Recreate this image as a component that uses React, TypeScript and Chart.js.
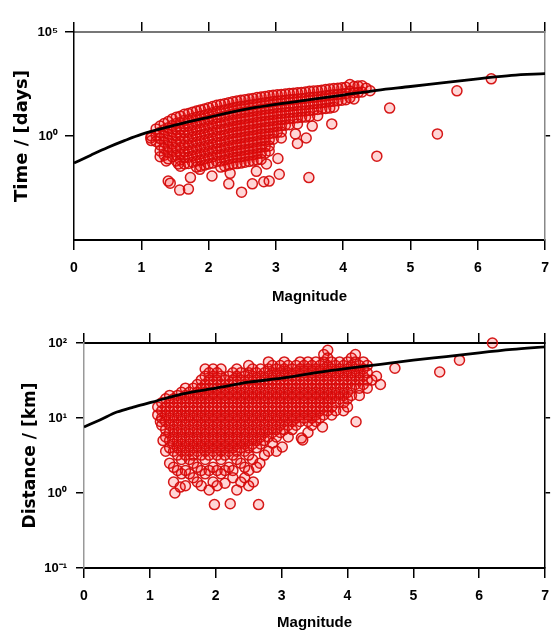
import React, { useEffect, useRef } from 'react';
import { Chart, registerables } from 'chart.js';

Chart.register(...registerables);

// ---------- axis ticks ----------
const magnitudeTicks = [0, 1, 2, 3, 4, 5, 6, 7];
const timeTickValues = [1, 100000];
const timeTickLabels = ['10⁰', '10⁵'];
const timeRightTicks = [1];
const distanceTickValues = [0.1, 1, 10, 100];
const distanceTickLabels = ['10⁻¹', '10⁰', '10¹', '10²'];
const distanceRightTicks = [1, 10];

// ---------- fitted curves ----------
const fitMagnitudes = [0, 0.25, 0.5, 0.75, 1, 1.5, 2, 2.5, 3, 3.5, 4, 4.5, 5, 5.5, 6, 6.5, 7];
const fitTimeDays = [0.05, 0.12, 0.28, 0.6, 1.2, 3.3, 7.9, 18, 33, 56, 93, 158, 240, 370, 560, 830, 1000];
const fitDistanceKm = [7.6, 9.5, 12, 14, 16, 21, 25, 30, 34, 40, 46, 52, 59, 66, 74, 82, 89];

// ---------- observed events: [magnitude, time in days] ----------
const timePoints: [number, number][] = [
  [1.14, 0.8], [1.15, 1.0], [1.15, 0.6],
  [1.22, 2.2], [1.22, 1.1], [1.22, 0.55],
  [1.28, 3], [1.28, 1.5], [1.28, 0.75], [1.28, 0.37], [1.28, 0.19], [1.28, 0.1],
  [1.34, 4], [1.34, 2], [1.34, 1], [1.34, 0.5], [1.34, 0.25], [1.34, 0.12],
  [1.40, 5], [1.40, 2.5], [1.40, 1.25], [1.40, 0.62], [1.40, 0.31], [1.40, 0.16], [1.40, 0.08],
  [1.46, 6.5], [1.46, 3.2], [1.46, 1.6], [1.46, 0.8], [1.46, 0.4], [1.46, 0.2], [1.46, 0.1],
  [1.52, 8], [1.52, 4], [1.52, 2], [1.52, 1], [1.52, 0.5], [1.52, 0.25], [1.52, 0.12], [1.52, 0.063],
  [1.58, 9], [1.58, 4.5], [1.58, 2.2], [1.58, 1.1], [1.58, 0.56], [1.58, 0.28], [1.58, 0.14], [1.58, 0.07], [1.58, 0.035],
  [1.64, 11], [1.64, 5.5], [1.64, 2.8], [1.64, 1.4], [1.64, 0.7], [1.64, 0.35], [1.64, 0.17], [1.64, 0.09], [1.64, 0.045],
  [1.70, 12], [1.70, 6], [1.70, 3], [1.70, 1.5], [1.70, 0.75], [1.70, 0.38], [1.70, 0.19], [1.70, 0.095], [1.70, 0.048],
  [1.76, 14], [1.76, 7], [1.76, 3.5], [1.76, 1.8], [1.76, 0.9], [1.76, 0.45], [1.76, 0.22], [1.76, 0.11], [1.76, 0.055],
  [1.82, 16], [1.82, 8], [1.82, 4], [1.82, 2], [1.82, 1], [1.82, 0.5], [1.82, 0.25], [1.82, 0.125], [1.82, 0.063], [1.82, 0.032],
  [1.88, 18], [1.88, 9], [1.88, 4.5], [1.88, 2.2], [1.88, 1.1], [1.88, 0.56], [1.88, 0.28], [1.88, 0.14], [1.88, 0.07], [1.88, 0.035],
  [1.94, 20], [1.94, 10], [1.94, 5], [1.94, 2.5], [1.94, 1.25], [1.94, 0.62], [1.94, 0.31], [1.94, 0.16], [1.94, 0.08], [1.94, 0.04],
  [2.00, 23], [2.00, 11.5], [2.00, 5.7], [2.00, 2.9], [2.00, 1.45], [2.00, 0.72], [2.00, 0.36], [2.00, 0.18], [2.00, 0.09], [2.00, 0.045],
  [2.06, 26], [2.06, 13], [2.06, 6.5], [2.06, 3.2], [2.06, 1.6], [2.06, 0.8], [2.06, 0.4], [2.06, 0.2], [2.06, 0.1], [2.06, 0.05],
  [2.12, 30], [2.12, 15], [2.12, 7.5], [2.12, 3.8], [2.12, 1.9], [2.12, 0.95], [2.12, 0.47], [2.12, 0.24], [2.12, 0.12], [2.12, 0.06],
  [2.18, 33], [2.18, 16], [2.18, 8], [2.18, 4], [2.18, 2], [2.18, 1], [2.18, 0.5], [2.18, 0.25], [2.18, 0.125], [2.18, 0.063], [2.18, 0.032],
  [2.24, 36], [2.24, 18], [2.24, 9], [2.24, 4.5], [2.24, 2.2], [2.24, 1.1], [2.24, 0.56], [2.24, 0.28], [2.24, 0.14], [2.24, 0.07], [2.24, 0.035],
  [2.30, 40], [2.30, 20], [2.30, 10], [2.30, 5], [2.30, 2.5], [2.30, 1.25], [2.30, 0.62], [2.30, 0.31], [2.30, 0.16], [2.30, 0.08], [2.30, 0.04],
  [2.36, 44], [2.36, 22], [2.36, 11], [2.36, 5.5], [2.36, 2.8], [2.36, 1.4], [2.36, 0.7], [2.36, 0.35], [2.36, 0.17], [2.36, 0.09], [2.36, 0.045],
  [2.42, 48], [2.42, 24], [2.42, 12], [2.42, 6], [2.42, 3], [2.42, 1.5], [2.42, 0.75], [2.42, 0.37], [2.42, 0.19], [2.42, 0.095], [2.42, 0.047],
  [2.48, 52], [2.48, 26], [2.48, 13], [2.48, 6.5], [2.48, 3.2], [2.48, 1.6], [2.48, 0.8], [2.48, 0.4], [2.48, 0.2], [2.48, 0.1], [2.48, 0.05],
  [2.54, 56], [2.54, 28], [2.54, 14], [2.54, 7], [2.54, 3.5], [2.54, 1.75], [2.54, 0.87], [2.54, 0.44], [2.54, 0.22], [2.54, 0.11], [2.54, 0.055],
  [2.60, 60], [2.60, 30], [2.60, 15], [2.60, 7.5], [2.60, 3.7], [2.60, 1.9], [2.60, 0.94], [2.60, 0.47], [2.60, 0.23], [2.60, 0.12], [2.60, 0.06],
  [2.66, 64], [2.66, 32], [2.66, 16], [2.66, 8], [2.66, 4], [2.66, 2], [2.66, 1], [2.66, 0.5], [2.66, 0.25], [2.66, 0.125], [2.66, 0.063],
  [2.72, 70], [2.72, 35], [2.72, 17], [2.72, 8.7], [2.72, 4.4], [2.72, 2.2], [2.72, 1.1], [2.72, 0.55], [2.72, 0.27], [2.72, 0.14], [2.72, 0.07],
  [2.78, 75], [2.78, 37], [2.78, 19], [2.78, 9.4], [2.78, 4.7], [2.78, 2.3], [2.78, 1.2], [2.78, 0.6], [2.78, 0.3], [2.78, 0.15], [2.78, 0.075],
  [2.84, 80], [2.84, 40], [2.84, 20], [2.84, 10], [2.84, 5], [2.84, 2.5], [2.84, 1.25], [2.84, 0.62], [2.84, 0.31], [2.84, 0.15],
  [2.90, 85], [2.90, 42], [2.90, 21], [2.90, 10.5], [2.90, 5.3], [2.90, 2.6], [2.90, 1.3], [2.90, 0.66], [2.90, 0.33],
  [2.96, 90], [2.96, 45], [2.96, 22], [2.96, 11], [2.96, 5.6], [2.96, 2.8], [2.96, 1.4], [2.96, 0.7],
  [3.02, 95], [3.02, 48], [3.02, 24], [3.02, 12], [3.02, 6], [3.02, 3], [3.02, 1.5],
  [3.08, 100], [3.08, 50], [3.08, 25], [3.08, 12.5], [3.08, 6.2], [3.08, 3.1], [3.08, 1.55],
  [3.14, 105], [3.14, 52], [3.14, 26], [3.14, 13], [3.14, 6.5], [3.14, 3.3],
  [3.20, 110], [3.20, 55], [3.20, 27], [3.20, 14], [3.20, 7], [3.20, 3.5],
  [3.26, 115], [3.26, 57], [3.26, 29], [3.26, 14], [3.26, 7.2],
  [3.32, 120], [3.32, 60], [3.32, 30], [3.32, 15], [3.32, 7.5], [3.32, 3.8],
  [3.38, 125], [3.38, 62], [3.38, 31], [3.38, 16], [3.38, 8],
  [3.44, 130], [3.44, 65], [3.44, 32], [3.44, 16], [3.44, 8.1],
  [3.50, 140], [3.50, 70], [3.50, 35], [3.50, 17], [3.50, 8.7],
  [3.56, 145], [3.56, 72], [3.56, 36], [3.56, 18],
  [3.62, 150], [3.62, 75], [3.62, 38], [3.62, 19], [3.62, 9.5],
  [3.68, 160], [3.68, 80], [3.68, 40], [3.68, 20],
  [3.74, 170], [3.74, 85], [3.74, 42], [3.74, 21],
  [3.80, 180], [3.80, 90], [3.80, 45], [3.80, 22],
  [3.86, 190], [3.86, 95], [3.86, 47], [3.86, 24],
  [3.92, 200], [3.92, 100], [3.92, 50],
  [3.98, 210], [3.98, 105], [3.98, 52],
  [4.04, 220], [4.04, 110], [4.04, 55],
  [4.10, 300], [4.10, 140], [4.10, 70],
  [4.16, 240], [4.16, 120], [4.16, 60],
  [4.22, 250], [4.22, 125],
  [4.28, 260], [4.28, 130],
  [4.34, 200], [4.40, 150],
  // isolated events
  [1.37, 0.063], [1.40, 0.0068], [1.43, 0.0054], [1.55, 0.045], [1.57, 0.0025], [1.70, 0.0028],
  [1.73, 0.01], [1.87, 0.025], [2.05, 0.012], [2.30, 0.005], [2.32, 0.016], [2.49, 0.002],
  [2.65, 0.005], [2.71, 0.02], [2.82, 0.0063], [2.86, 0.045], [2.90, 0.0068], [2.90, 0.19],
  [3.03, 0.083], [3.05, 0.0145], [3.08, 0.8], [3.29, 1.26], [3.32, 0.44], [3.45, 0.8],
  [3.49, 0.01], [3.54, 3], [3.83, 3.8], [4.50, 0.107], [4.69, 22], [5.40, 1.26],
  [5.69, 148], [6.20, 560],
];

// ---------- observed events: [magnitude, distance in km] ----------
const distancePoints: [number, number][] = [
  [1.12, 14], [1.12, 11], [1.16, 9],
  [1.18, 16], [1.18, 12.5], [1.18, 10], [1.18, 8], [1.20, 5],
  [1.24, 18], [1.24, 14], [1.24, 11], [1.24, 9], [1.24, 7], [1.24, 5.6], [1.24, 3.6],
  [1.30, 20], [1.30, 16], [1.30, 12.5], [1.30, 10], [1.30, 8], [1.30, 6.4], [1.30, 5], [1.30, 4], [1.30, 2.5],
  [1.36, 18], [1.36, 14], [1.36, 11], [1.36, 9], [1.36, 7], [1.36, 5.6], [1.36, 4.5], [1.36, 3.6], [1.36, 2.2], [1.36, 1.4],
  [1.42, 20], [1.42, 16], [1.42, 12.5], [1.42, 10], [1.42, 8], [1.42, 6.4], [1.42, 5], [1.42, 4], [1.42, 3.2], [1.42, 2], [1.38, 1.0],
  [1.48, 22], [1.48, 18], [1.48, 14], [1.48, 11], [1.48, 9], [1.48, 7], [1.48, 5.6], [1.48, 4.5], [1.48, 3.6], [1.48, 2.8], [1.48, 1.8], [1.46, 1.2],
  [1.54, 25], [1.54, 20], [1.54, 16], [1.54, 12.5], [1.54, 10], [1.54, 8], [1.54, 6.4], [1.54, 5], [1.54, 4], [1.54, 3.2], [1.54, 2], [1.54, 1.25],
  [1.60, 22], [1.60, 18], [1.60, 14], [1.60, 11], [1.60, 9], [1.60, 7], [1.60, 5.6], [1.60, 4.5], [1.60, 3.6], [1.60, 2.8], [1.60, 1.8],
  [1.66, 25], [1.66, 20], [1.66, 16], [1.66, 12.5], [1.66, 10], [1.66, 8], [1.66, 6.4], [1.66, 5], [1.66, 4], [1.66, 3.2], [1.66, 2.5], [1.66, 1.6],
  [1.72, 28], [1.72, 22], [1.72, 18], [1.72, 14], [1.72, 11], [1.72, 9], [1.72, 7], [1.72, 5.6], [1.72, 4.5], [1.72, 3.6], [1.72, 2.2], [1.72, 1.4],
  [1.78, 32], [1.78, 25], [1.78, 20], [1.78, 16], [1.78, 12.5], [1.78, 10], [1.78, 8], [1.78, 6.4], [1.78, 5], [1.78, 4], [1.78, 3.2], [1.78, 2], [1.78, 1.25],
  [1.84, 45], [1.84, 36], [1.84, 28], [1.84, 22], [1.84, 18], [1.84, 14], [1.84, 11], [1.84, 9], [1.84, 7], [1.84, 5.6], [1.84, 4.5], [1.84, 3.6], [1.84, 2.8], [1.84, 1.8],
  [1.90, 40], [1.90, 32], [1.90, 25], [1.90, 20], [1.90, 16], [1.90, 12.5], [1.90, 10], [1.90, 8], [1.90, 6.4], [1.90, 5], [1.90, 4], [1.90, 3.2], [1.90, 2], [1.90, 1.1],
  [1.96, 45], [1.96, 36], [1.96, 28], [1.96, 22], [1.96, 18], [1.96, 14], [1.96, 11], [1.96, 9], [1.96, 7], [1.96, 5.6], [1.96, 4.5], [1.96, 3.6], [1.96, 2.2], [1.96, 1.4], [1.98, 0.7],
  [2.02, 40], [2.02, 32], [2.02, 25], [2.02, 20], [2.02, 16], [2.02, 12.5], [2.02, 10], [2.02, 8], [2.02, 6.4], [2.02, 5], [2.02, 4], [2.02, 3.2], [2.02, 2], [2.02, 1.25],
  [2.08, 45], [2.08, 36], [2.08, 28], [2.08, 22], [2.08, 18], [2.08, 14], [2.08, 11], [2.08, 9], [2.08, 7], [2.08, 5.6], [2.08, 4.5], [2.08, 3.6], [2.08, 2.8], [2.08, 1.8],
  [2.14, 32], [2.14, 25], [2.14, 20], [2.14, 16], [2.14, 12.5], [2.14, 10], [2.14, 8], [2.14, 6.4], [2.14, 5], [2.14, 4], [2.14, 3.2], [2.14, 2], [2.14, 1.35],
  [2.20, 36], [2.20, 28], [2.20, 22], [2.20, 18], [2.20, 14], [2.20, 11], [2.20, 9], [2.20, 7], [2.20, 5.6], [2.20, 4.5], [2.20, 3.6], [2.20, 2.2], [2.22, 0.72],
  [2.26, 40], [2.26, 32], [2.26, 25], [2.26, 20], [2.26, 16], [2.26, 12.5], [2.26, 10], [2.26, 8], [2.26, 6.4], [2.26, 5], [2.26, 4], [2.26, 3.2], [2.26, 2], [2.26, 1.6],
  [2.32, 45], [2.32, 36], [2.32, 28], [2.32, 22], [2.32, 18], [2.32, 14], [2.32, 11], [2.32, 9], [2.32, 7], [2.32, 5.6], [2.32, 4.5], [2.32, 3.6], [2.32, 2.8], [2.32, 1.1],
  [2.38, 40], [2.38, 32], [2.38, 25], [2.38, 20], [2.38, 16], [2.38, 12.5], [2.38, 10], [2.38, 8], [2.38, 6.4], [2.38, 5], [2.38, 4], [2.38, 2.5], [2.38, 1.4],
  [2.44, 36], [2.44, 28], [2.44, 22], [2.44, 18], [2.44, 14], [2.44, 11], [2.44, 9], [2.44, 7], [2.44, 5.6], [2.44, 4.5], [2.44, 3.6], [2.44, 2.2], [2.44, 1.6],
  [2.50, 50], [2.50, 40], [2.50, 32], [2.50, 25], [2.50, 20], [2.50, 16], [2.50, 12.5], [2.50, 10], [2.50, 8], [2.50, 6.4], [2.50, 5], [2.50, 4], [2.50, 3.2], [2.50, 2], [2.50, 1.25],
  [2.56, 45], [2.56, 36], [2.56, 28], [2.56, 22], [2.56, 18], [2.56, 14], [2.56, 11], [2.56, 9], [2.56, 7], [2.56, 5.6], [2.56, 4.5], [2.56, 2.8], [2.57, 1.4],
  [2.62, 40], [2.62, 32], [2.62, 25], [2.62, 20], [2.62, 16], [2.62, 12.5], [2.62, 10], [2.62, 8], [2.62, 6.4], [2.62, 5], [2.62, 4], [2.62, 2.2], [2.65, 0.7],
  [2.68, 45], [2.68, 36], [2.68, 28], [2.68, 22], [2.68, 18], [2.68, 14], [2.68, 11], [2.68, 9], [2.68, 7], [2.68, 5.6], [2.68, 4.5], [2.67, 2.5],
  [2.74, 40], [2.74, 32], [2.74, 25], [2.74, 20], [2.74, 16], [2.74, 12.5], [2.74, 10], [2.74, 8], [2.74, 6.4], [2.74, 5], [2.74, 3.2],
  [2.80, 56], [2.80, 45], [2.80, 36], [2.80, 28], [2.80, 22], [2.80, 18], [2.80, 14], [2.80, 11], [2.80, 9], [2.80, 7], [2.80, 5.6], [2.80, 3.6],
  [2.86, 50], [2.86, 40], [2.86, 32], [2.86, 25], [2.86, 20], [2.86, 16], [2.86, 12.5], [2.86, 10], [2.86, 8], [2.86, 6.4], [2.86, 4.6],
  [2.92, 45], [2.92, 36], [2.92, 28], [2.92, 22], [2.92, 18], [2.92, 14], [2.92, 11], [2.92, 9], [2.92, 7], [2.92, 5.6], [2.92, 3.6],
  [2.98, 50], [2.98, 40], [2.98, 32], [2.98, 25], [2.98, 20], [2.98, 16], [2.98, 12.5], [2.98, 10], [2.98, 8], [2.98, 6.4], [3.01, 4.1],
  [3.04, 56], [3.04, 45], [3.04, 36], [3.04, 28], [3.04, 22], [3.04, 18], [3.04, 14], [3.04, 11], [3.04, 9], [3.04, 7],
  [3.10, 50], [3.10, 40], [3.10, 32], [3.10, 25], [3.10, 20], [3.10, 16], [3.10, 12.5], [3.10, 10], [3.10, 8], [3.10, 5.6],
  [3.16, 45], [3.16, 36], [3.16, 28], [3.16, 22], [3.16, 18], [3.16, 14], [3.16, 11], [3.16, 9], [3.16, 7],
  [3.22, 50], [3.22, 40], [3.22, 32], [3.22, 25], [3.22, 20], [3.22, 16], [3.22, 12.5], [3.22, 10], [3.22, 8],
  [3.28, 56], [3.28, 45], [3.28, 36], [3.28, 28], [3.28, 22], [3.28, 18], [3.28, 14], [3.28, 11], [3.28, 9], [3.30, 5.4],
  [3.34, 50], [3.34, 40], [3.34, 32], [3.34, 25], [3.34, 20], [3.34, 16], [3.34, 12.5], [3.34, 10], [3.32, 5.1],
  [3.40, 56], [3.40, 45], [3.40, 36], [3.40, 28], [3.40, 22], [3.40, 18], [3.40, 14], [3.40, 11], [3.40, 9], [3.40, 6.4],
  [3.46, 50], [3.46, 40], [3.46, 32], [3.46, 25], [3.46, 20], [3.46, 16], [3.46, 12.5], [3.46, 10], [3.46, 8],
  [3.52, 56], [3.52, 45], [3.52, 36], [3.52, 28], [3.52, 22], [3.52, 18], [3.52, 14], [3.52, 11], [3.52, 9],
  [3.58, 50], [3.58, 40], [3.58, 32], [3.58, 25], [3.58, 20], [3.58, 16], [3.58, 12.5], [3.58, 10], [3.62, 7.6],
  [3.64, 70], [3.64, 56], [3.64, 45], [3.64, 36], [3.64, 28], [3.64, 22], [3.64, 18], [3.64, 14], [3.64, 11],
  [3.70, 80], [3.70, 63], [3.70, 50], [3.70, 40], [3.70, 32], [3.70, 25], [3.70, 20], [3.70, 16], [3.70, 12.5],
  [3.76, 56], [3.76, 45], [3.76, 36], [3.76, 28], [3.76, 22], [3.76, 18], [3.76, 14], [3.76, 11],
  [3.82, 50], [3.82, 40], [3.82, 32], [3.82, 25], [3.82, 20], [3.82, 16], [3.82, 12.5],
  [3.88, 56], [3.88, 45], [3.88, 36], [3.88, 28], [3.88, 22], [3.88, 18],
  [3.94, 50], [3.94, 40], [3.94, 32], [3.94, 25], [3.94, 20], [3.94, 16], [3.94, 12.5],
  [4.00, 56], [4.00, 45], [4.00, 36], [4.00, 28], [4.00, 22], [4.00, 18], [4.00, 14],
  [4.06, 63], [4.06, 50], [4.06, 40], [4.06, 32], [4.06, 25], [4.06, 20],
  [4.12, 70], [4.12, 56], [4.12, 45], [4.12, 36], [4.12, 28], [4.13, 8.9],
  [4.18, 50], [4.18, 40], [4.18, 32], [4.18, 25], [4.18, 20],
  [4.24, 56], [4.24, 45], [4.24, 36], [4.24, 28],
  [4.30, 50], [4.30, 40], [4.30, 32], [4.30, 25],
  [4.37, 32], [4.44, 36], [4.50, 28], [4.72, 46], [5.40, 41], [5.70, 59], [6.20, 100],
];

// ---------- layout of the two panels ----------
type PanelSpec = {
  canvasTop: number;
  canvasHeight: number;
  leftW: number;
  rightW: number;
  topH: number;
  bottomH: number;
  yMin: number;
  yMax: number;
  tickValues: number[];
  tickLabels: string[];
  rightTicks: number[];
  yTitle: string;
  yTitleSize: number;
  yTitlePad: number;
  yTickLen: number;
  yTickPad: number;
  xTitlePadBottom: number;
  topBorder: string;
  rightBorder: string;
  leftBorder: string;
  fit: number[];
  points: [number, number][];
};

const topPanel: PanelSpec = {
  canvasTop: 0,
  canvasHeight: 312,
  leftW: 74,
  rightW: 5,
  topH: 32,
  bottomH: 72,
  yMin: 0.00001,
  yMax: 100000,
  tickValues: timeTickValues,
  tickLabels: timeTickLabels,
  rightTicks: timeRightTicks,
  yTitle: 'Time / [days]',
  yTitleSize: 18,
  yTitlePad: 12,
  yTickLen: 9,
  yTickPad: 7,
  xTitlePadBottom: 6,
  topBorder: '#777777',
  rightBorder: '#888888',
  leftBorder: '#000000',
  fit: fitTimeDays,
  points: timePoints,
};

const bottomPanel: PanelSpec = {
  canvasTop: 300,
  canvasHeight: 337,
  leftW: 84,
  rightW: 5,
  topH: 43,
  bottomH: 69,
  yMin: 0.1,
  yMax: 100,
  tickValues: distanceTickValues,
  tickLabels: distanceTickLabels,
  rightTicks: distanceRightTicks,
  yTitle: 'Distance / [km]',
  yTitleSize: 17,
  yTitlePad: 20,
  yTickLen: 8,
  yTickPad: 9,
  xTitlePadBottom: 5,
  topBorder: '#000000',
  rightBorder: '#000000',
  leftBorder: '#999999',
  fit: fitDistanceKm,
  points: distancePoints,
};

const SANS = '"Liberation Sans", Arial, Helvetica, sans-serif';
const boldFont = (size: number, family: string = SANS) => ({ family, size, weight: 'bold' as const });

function buildConfig(p: PanelSpec): any {
  const magTicks = (s: any) => {
    s.ticks = magnitudeTicks.map((v) => ({ value: v }));
  };
  return {
    type: 'scatter',
    data: {
      datasets: [
        {
          type: 'line',
          data: fitMagnitudes.map((m, i) => ({ x: m, y: p.fit[i] })),
          borderColor: '#000000',
          borderWidth: 2.8,
          pointRadius: 0,
          cubicInterpolationMode: 'monotone',
          fill: false,
        },
        {
          type: 'scatter',
          data: p.points.map(([m, v]) => ({ x: m, y: v })),
          pointStyle: 'circle',
          pointRadius: 5,
          borderWidth: 1.5,
          borderColor: 'rgba(212, 12, 12, 0.95)',
          backgroundColor: 'rgba(255, 0, 0, 0.16)',
          clip: false,
        },
      ],
    },
    options: {
      responsive: false,
      animation: false,
      events: [],
      layout: { padding: 0 },
      plugins: { legend: { display: false }, tooltip: { enabled: false } },
      scales: {
        x: {
          type: 'linear',
          position: 'bottom',
          min: 0,
          max: 7,
          afterBuildTicks: magTicks,
          afterFit: (s: any) => {
            s.height = p.bottomH;
          },
          ticks: { color: '#000', font: boldFont(14), padding: 10, autoSkip: false, maxRotation: 0 },
          grid: { drawOnChartArea: false, tickLength: 10, color: '#000', lineWidth: 1.5 },
          border: { color: '#000', width: 2 },
          title: {
            display: true,
            text: 'Magnitude',
            color: '#000',
            font: boldFont(15),
            padding: { top: 0, bottom: p.xTitlePadBottom },
          },
        },
        xTop: {
          type: 'linear',
          position: 'top',
          min: 0,
          max: 7,
          afterBuildTicks: magTicks,
          afterFit: (s: any) => {
            s.height = p.topH;
          },
          ticks: { display: false },
          grid: { drawOnChartArea: false, tickLength: 10, color: '#000', lineWidth: 1.5 },
          border: { color: p.topBorder, width: 2 },
        },
        y: {
          type: 'logarithmic',
          position: 'left',
          min: p.yMin,
          max: p.yMax,
          afterBuildTicks: (s: any) => {
            s.ticks = p.tickValues.map((v) => ({ value: v }));
          },
          afterFit: (s: any) => {
            s.width = p.leftW;
          },
          ticks: {
            color: '#000',
            font: boldFont(13),
            padding: p.yTickPad,
            autoSkip: false,
            callback: (v: any) => {
              const i = p.tickValues.indexOf(Number(v));
              return i >= 0 ? p.tickLabels[i] : '';
            },
          },
          grid: { drawOnChartArea: false, tickLength: p.yTickLen, color: '#000', lineWidth: 1.5 },
          border: { color: p.leftBorder, width: 1.5 },
          title: {
            display: true,
            text: p.yTitle,
            color: '#000',
            font: boldFont(p.yTitleSize, '"DejaVu Sans", Verdana, sans-serif'),
            padding: { top: p.yTitlePad, bottom: 0 },
          },
        },
        yRight: {
          type: 'logarithmic',
          position: 'right',
          min: p.yMin,
          max: p.yMax,
          afterBuildTicks: (s: any) => {
            s.ticks = p.rightTicks.map((v) => ({ value: v }));
          },
          afterFit: (s: any) => {
            s.width = p.rightW;
          },
          ticks: { display: false },
          grid: { drawOnChartArea: false, tickLength: 5, color: '#000', lineWidth: 1.5 },
          border: { color: p.rightBorder, width: 1.5 },
        },
      },
    },
  };
}

function Panel({ spec }: { spec: PanelSpec }) {
  const ref = useRef<HTMLCanvasElement>(null);
  useEffect(() => {
    if (!ref.current) return;
    const chart = new Chart(ref.current, buildConfig(spec));
    return () => chart.destroy();
  }, [spec]);
  return (
    <canvas
      ref={ref}
      width={559}
      height={spec.canvasHeight}
      style={{
        position: 'absolute',
        left: 0,
        top: spec.canvasTop,
        width: 559,
        height: spec.canvasHeight,
        display: 'block',
      }}
    />
  );
}

export default function App() {
  return (
    <div
      style={{
        position: 'absolute',
        left: 0,
        top: 0,
        width: 559,
        height: 637,
        background: '#ffffff',
        overflow: 'hidden',
      }}
    >
      <Panel spec={bottomPanel} />
      <Panel spec={topPanel} />
    </div>
  );
}
